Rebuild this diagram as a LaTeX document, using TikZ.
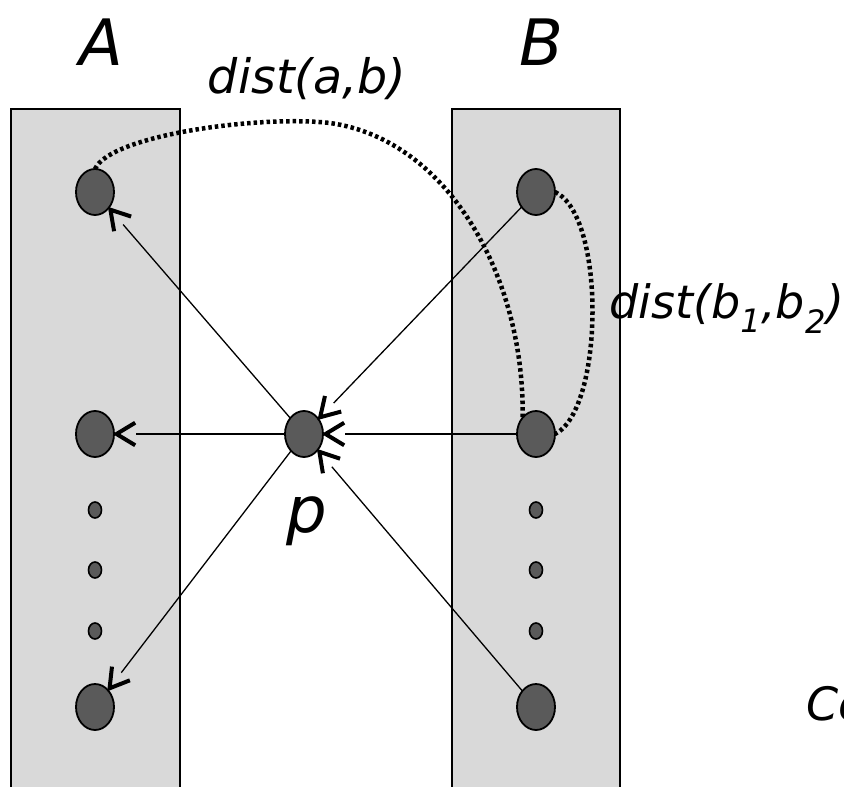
\documentclass[tikz,border=0pt]{standalone}
\usepackage{fontspec}
\setmainfont{DejaVu Sans}
\usetikzlibrary{shapes.geometric,calc}
\definecolor{panel}{RGB}{217,217,217}
\definecolor{dotfill}{RGB}{90,90,90}
\tikzset{
  panelbox/.style={draw=black, line width=1.2pt, fill=panel},
  bignode/.style={ellipse, draw=black, line width=1.8pt, fill=dotfill, minimum width=38pt, minimum height=46pt, inner sep=0pt, outer sep=0pt},
  smallnode/.style={ellipse, draw=black, line width=1.6pt, fill=dotfill, minimum width=13pt, minimum height=16pt, inner sep=0pt},
  link/.style={line width=1.3pt, shorten >=22pt},
  linktip/.style={line width=4pt, line cap=butt, miter limit=10},
  distline/.style={line width=4.5pt, dash pattern=on 3.5pt off 3pt},
  lbl/.style={inner sep=0pt}
}
\begin{document}
\begin{tikzpicture}[x=1pt,y=-1pt]
\useasboundingbox (0,0) rectangle (844,787);
\fill[white] (0,0) rectangle (844,787);
\draw[panelbox] (11,800) -- (11,109) -- (180,109) -- (180,800);
\draw[panelbox] (452,800) -- (452,109) -- (620,109) -- (620,800);

\node[bignode] (a1) at (95,192) {};
\node[bignode] (a2) at (95,434) {};
\node[bignode] (a3) at (95,707) {};
\node[smallnode] (a4) at (95,510) {};
\node[smallnode] (a5) at (95,570) {};
\node[smallnode] (a6) at (95,631) {};

\node[bignode] (b1) at (536,192) {};
\node[bignode] (b2) at (536,434) {};
\node[bignode] (b3) at (536,707) {};
\node[smallnode] (b4) at (536,510) {};
\node[smallnode] (b5) at (536,570) {};
\node[smallnode] (b6) at (536,631) {};

\node[bignode] (p) at (304,434) {};

\foreach \s/\t in {p/a1, p/a2, p/a3, b1/p, b2/p, b3/p}{
  \draw[link] (\s) -- (\t);
  \draw[linktip] let \p1=($(\s)-(\t)$), \n1={atan2(\y1,\x1)} in
    ($(\t.\n1)!24pt!28:(\s)$) -- ($(\t.\n1)!2.5pt!(\s)$) -- ($(\t.\n1)!24pt!-28:(\s)$);
}

\draw[distline] (a1.north) .. controls (110,135) and (260,115) .. (330,123)
  .. controls (450,140) and (525,280) .. (b2.north west);
\draw[distline] (b1.east) .. controls (606,215) and (604,410) .. (b2.east);

\node[lbl, font=\fontsize{64}{64}\selectfont\itshape] (lA) at (101,42) {A};
\node[lbl, font=\fontsize{64}{64}\selectfont\itshape] (lB) at (541,42) {B};
\node[lbl, font=\fontsize{47.5}{48}\selectfont\itshape, anchor=base] (dab) at (307,93) {dist(a,b)};
\node[lbl, font=\fontsize{46}{46}\selectfont\itshape, anchor=base west] (dbb) at (609,318) {dist(b\textsubscript{1},b\textsubscript{2})};
\node[lbl, font=\fontsize{64}{64}\selectfont\itshape, anchor=base] (lp) at (307,532) {p};
\node[lbl, font=\fontsize{46}{46}\selectfont\itshape, anchor=base west] (co) at (806,720) {Co};
\end{tikzpicture}
\end{document}
